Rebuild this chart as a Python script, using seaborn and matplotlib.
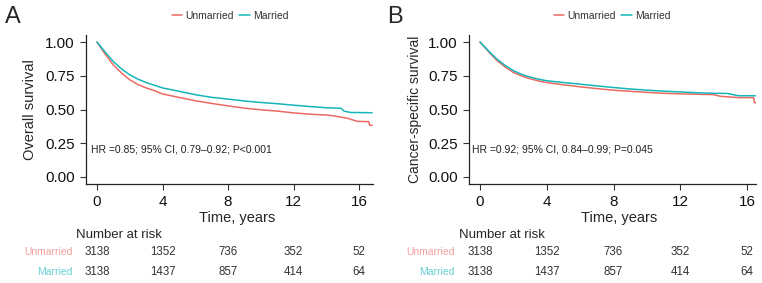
import numpy as np
import pandas as pd
import matplotlib
matplotlib.use("Agg")
import matplotlib.pyplot as plt
import seaborn as sns
from matplotlib.transforms import blended_transform_factory
from matplotlib.lines import Line2D

sns.set_theme(style="ticks")
plt.rcParams['font.family'] = ['Liberation Sans', 'DejaVu Sans']

groups = ["Unmarried", "Married"]
palette = {"Unmarried": "#EC6A64", "Married": "#14B6BA"}

# Panel A: overall survival
os_unmarried_t = [0, 0.5, 1, 1.5, 2, 2.5, 3, 3.5, 4, 5, 6, 7, 8, 9, 10, 11, 12, 13, 14, 14.5, 15.3, 15.9, 16.6, 16.65, 16.8]
os_unmarried_s = [1.0, 0.91, 0.83, 0.77, 0.72, 0.685, 0.66, 0.64, 0.615, 0.59, 0.565, 0.545, 0.527, 0.51, 0.498, 0.488, 0.475, 0.465, 0.459, 0.452, 0.435, 0.412, 0.41, 0.383, 0.383]
os_married_t = [0, 0.5, 1, 1.5, 2, 2.5, 3, 3.5, 4, 5, 6, 7, 8, 9, 10, 11, 12, 13, 14, 14.9, 15.1, 15.5, 16.8]
os_married_s = [1.0, 0.925, 0.855, 0.80, 0.757, 0.725, 0.70, 0.68, 0.66, 0.635, 0.61, 0.59, 0.577, 0.563, 0.552, 0.543, 0.532, 0.522, 0.513, 0.509, 0.487, 0.478, 0.476]

# Panel B: cancer-specific survival
css_unmarried_t = [0, 0.5, 1, 1.5, 2, 2.5, 3, 3.5, 4, 5, 6, 7, 8, 9, 10, 11, 12, 13, 14, 14.4, 15.5, 16.4, 16.45, 16.5]
css_unmarried_s = [1.0, 0.93, 0.865, 0.815, 0.775, 0.748, 0.728, 0.712, 0.70, 0.683, 0.668, 0.655, 0.643, 0.635, 0.627, 0.62, 0.616, 0.613, 0.61, 0.598, 0.588, 0.588, 0.55, 0.55]
css_married_t = [0, 0.5, 1, 1.5, 2, 2.5, 3, 3.5, 4, 5, 6, 7, 8, 9, 10, 11, 12, 13, 14, 14.8, 15.5, 16.5]
css_married_s = [1.0, 0.935, 0.875, 0.827, 0.788, 0.76, 0.74, 0.725, 0.713, 0.70, 0.688, 0.675, 0.663, 0.652, 0.643, 0.636, 0.63, 0.624, 0.62, 0.619, 0.602, 0.602]

risk_times = [0, 4, 8, 12, 16]
os_risk_unmarried = [3138, 1352, 736, 352, 52]
os_risk_married = [3138, 1437, 857, 414, 64]
css_risk_unmarried = [3138, 1352, 736, 352, 52]
css_risk_married = [3138, 1437, 857, 414, 64]

y_ticks = [0.00, 0.25, 0.50, 0.75, 1.00]
y_ticklabels = ["0.00", "0.25", "0.50", "0.75", "1.00"]

W, H = 762, 283
fig = plt.figure(figsize=(W / 100, H / 100), dpi=100)


def px_axes(left, right, top, bottom):
    return fig.add_axes([left / W, 1 - bottom / H, (right - left) / W, (bottom - top) / H])


def make_df(ut, us, mt, ms):
    return pd.concat([
        pd.DataFrame({"time": ut, "surv": us, "group": "Unmarried"}),
        pd.DataFrame({"time": mt, "surv": ms, "group": "Married"}),
    ], ignore_index=True)


panels = [
    dict(letter="A", ylabel="Overall survival", ylab_fs=10.5,
         df=make_df(os_unmarried_t, os_unmarried_s, os_married_t, os_married_s),
         box=(86, 373, 35, 184), xlim=(-0.672, 16.855),
         hr="HR =0.85; 95% CI, 0.79\u20130.92; P<0.001", hr_x=-0.38,
         risk=(os_risk_unmarried, os_risk_married),
         letter_x=5, ylab_x=37, leg_x=230, time_x=237, nar_x=76, rowlab_x=73),
    dict(letter="B", ylabel="Cancer-specific survival", ylab_fs=10.0,
         df=make_df(css_unmarried_t, css_unmarried_s, css_married_t, css_married_s),
         box=(469, 756, 35, 184), xlim=(-0.66, 16.54),
         hr="HR =0.92; 95% CI, 0.84\u20130.99; P=0.045", hr_x=-0.48,
         risk=(css_risk_unmarried, css_risk_married),
         letter_x=387, ylab_x=422, leg_x=612, time_x=619, nar_x=459, rowlab_x=455),
]

for p in panels:
    ax = px_axes(*p["box"])
    sns.lineplot(data=p["df"], x="time", y="surv", hue="group", hue_order=groups,
                 palette=palette, estimator=None, sort=False, linewidth=1.1,
                 legend=False, ax=ax)
    ax.set_xlim(*p["xlim"])
    ax.set_ylim(-0.052, 1.052)
    ax.set_xticks(risk_times)
    ax.set_xticklabels([str(t) for t in risk_times], fontsize=11)
    ax.set_yticks(y_ticks)
    ax.set_yticklabels(y_ticklabels, fontsize=11)
    ax.set_xlabel("")
    ax.set_ylabel(p["ylabel"], fontsize=p["ylab_fs"])
    ax.yaxis.set_label_coords((p["ylab_x"] - p["box"][0]) / (p["box"][1] - p["box"][0]), 0.5)
    for s in ["top", "right"]:
        ax.spines[s].set_visible(False)
    for s in ["left", "bottom"]:
        ax.spines[s].set_color("#222222")
        ax.spines[s].set_linewidth(0.9)
    ax.tick_params(axis="both", direction="out", length=4, width=0.8, color="#333333",
                   labelcolor="#111111", pad=4)
    ax.text(p["hr_x"], 0.20, p["hr"], fontsize=7.5, color="#222222", va="center", ha="left")

    # legend
    handles = [Line2D([0], [0], color=palette[g], lw=1.1) for g in groups]
    fig.legend(handles, groups, loc="center", bbox_to_anchor=(p["leg_x"] / W, 1 - 16 / H),
               ncol=2, frameon=False, fontsize=7.5, handlelength=1.0, handletextpad=0.3,
               columnspacing=0.5, labelcolor="#333333")

    # panel letter
    fig.text(p["letter_x"] / W, 1 - 17 / H, p["letter"], fontsize=17, ha="left", va="center")

    # x title
    fig.text(p["time_x"] / W, 1 - 218 / H, "Time, years", fontsize=10.5, ha="center", va="center")

    # number at risk
    fig.text(p["nar_x"] / W, 1 - 235 / H, "Number at risk", fontsize=9.5, ha="left", va="center")
    tr = blended_transform_factory(ax.transData, fig.transFigure)
    rows = [("Unmarried", p["risk"][0], 252), ("Married", p["risk"][1], 272)]
    for g, vals, ypx in rows:
        fig.text(p["rowlab_x"] / W, 1 - ypx / H, g, fontsize=7.5, ha="right", va="center",
                 color=palette[g], alpha=0.65)
        for t, v in zip(risk_times, vals):
            ax.text(t, 1 - ypx / H, str(v), transform=tr, fontsize=8.3, ha="center",
                    va="center", color="#333333", clip_on=False)

fig.savefig("out.png", dpi=100)
